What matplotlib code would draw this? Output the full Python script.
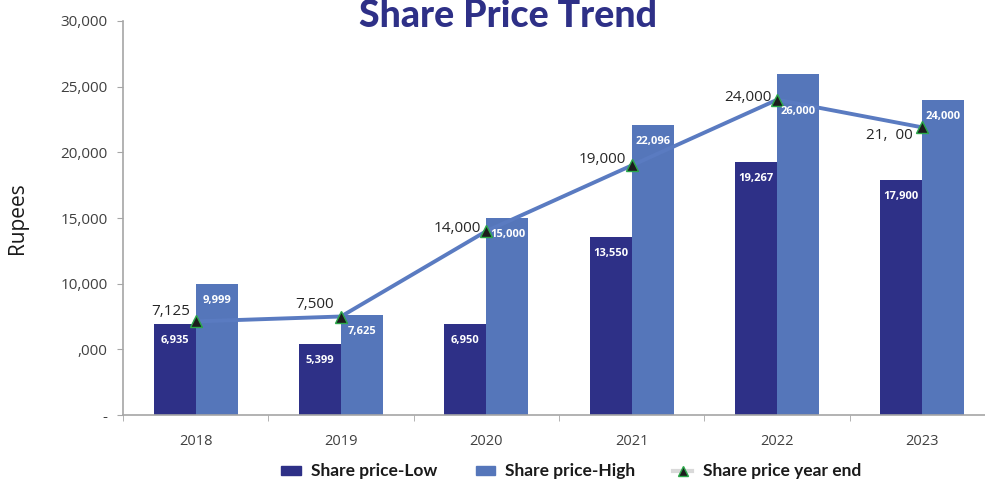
import numpy as np
import matplotlib.pyplot as plt
from matplotlib.lines import Line2D
from matplotlib.patches import Patch

years = ['2018', '2019', '2020', '2021', '2022', '2023']
price_low = [6935, 5399, 6950, 13550, 19267, 17900]
price_high = [9999, 7625, 15000, 22096, 26000, 24000]
year_end = [7125, 7500, 14000, 19000, 24000, 21900]
year_end_text = ['7,125', '7,500', '14,000', '19,000', '24,000', '21,  00']
yticks = [0, 5000, 10000, 15000, 20000, 25000, 30000]
ytick_text = ['-', ',000', '10,000', '15,000', '20,000', '25,000', '30,000']

c_low = '#2E3087'
c_high = '#5576BA'
c_line = '#5A7BC1'

fig = plt.figure(figsize=(9.85, 4.83), dpi=100)
ax = fig.add_axes([123/985, 68/483, 872/985, 394/483])

x = np.arange(len(years))
w = 0.29
ax.bar(x - w/2, price_low, w, color=c_low, zorder=1)
ax.bar(x + w/2, price_high, w, color=c_high, zorder=1)
ax.plot(x, year_end, color=c_line, lw=2.8, zorder=2)
ax.plot(x, year_end, ls='none', marker='^', ms=8, mfc='#1c1c1c', mec='#2BA84A', mew=1.0, zorder=3)

# data labels inside bars
for i in range(len(years)):
    ax.annotate(f'{price_low[i]:,}', (x[i] - w/2, price_low[i]), xytext=(0, -12),
                textcoords='offset points', ha='center', va='center',
                color='white', fontsize=8, fontweight='bold', family='Open Sans')
    dy = -27 if i == 4 else -12
    ax.annotate(f'{price_high[i]:,}', (x[i] + w/2, price_high[i]), xytext=(0, dy),
                textcoords='offset points', ha='center', va='center',
                color='white', fontsize=8, fontweight='bold', family='Open Sans')

# year-end labels
offs = [(-4, 7), (-5, 9), (-4, 2), (-4, 4), (-4, 1.5), (-7, -6)]
for i in range(len(years)):
    ax.annotate(year_end_text[i], (x[i], year_end[i]), xytext=offs[i],
                textcoords='offset points', ha='right', va='center',
                color='#262626', fontsize=11, family='Open Sans')

ax.set_xlim(-0.5, len(years) - 0.5)
ax.set_ylim(0, 30000)
ax.set_yticks(yticks)
ax.set_yticklabels(ytick_text)
ax.set_xticks(x)
ax.set_xticklabels(years)
ax.set_xticks(np.arange(-0.5, len(years)), minor=True)
ax.tick_params(axis='x', which='major', length=0, pad=14, labelsize=10.5, labelcolor='#404040')
ax.tick_params(axis='x', which='minor', length=4, color='#A6A6A6', direction='out')
ax.tick_params(axis='y', length=4, color='#A6A6A6', pad=7, labelsize=11, labelcolor='#404040')
for lab in ax.get_xticklabels() + ax.get_yticklabels():
    lab.set_family('Open Sans')
for s in ['top', 'right']:
    ax.spines[s].set_visible(False)
for s in ['left', 'bottom']:
    ax.spines[s].set_color('#A6A6A6')
    ax.spines[s].set_linewidth(1.2)

fig.text(18/985, 1 - 218/483, 'Rupees', rotation=90, ha='center', va='center',
         fontsize=15, color='#1a1a1a', family='Open Sans')
fig.text(508/985, 1 - 27/483, 'Share Price Trend', ha='center', va='baseline',
         fontsize=27, fontweight='black', color=c_low, family='Lato')

handles = [Patch(color=c_low), Patch(color=c_high),
           Line2D([], [], color='#D9D9D9', lw=3, marker='^', ms=7, mfc='#1c1c1c', mec='#2BA84A')]
labels = ['Share price-Low', 'Share price-High', 'Share price year end']
fig.legend(handles, labels, loc='center', bbox_to_anchor=(0.58, 0.024), ncol=3, frameon=False,
           prop={'family': 'Lato', 'weight': 'bold', 'size': 12.5}, handlelength=1.1,
           handleheight=0.4, columnspacing=2.2, handletextpad=0.6, labelcolor='#1a1a1a')

fig.savefig('out.png', dpi=100)
